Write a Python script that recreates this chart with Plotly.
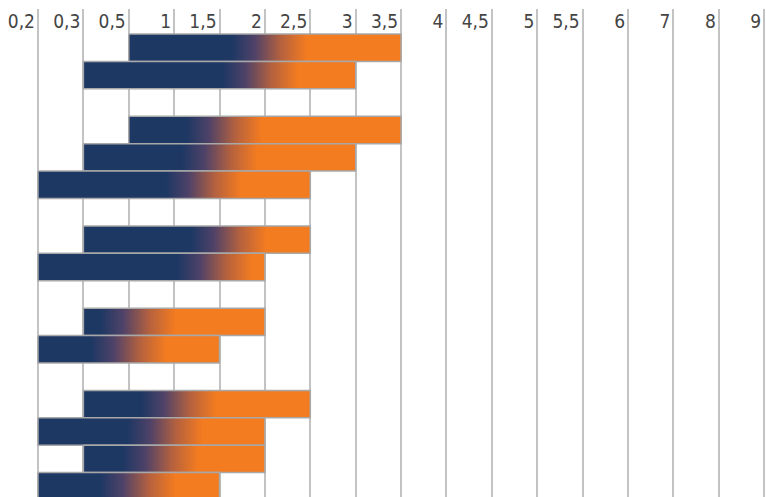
import plotly.graph_objects as go

# Scale steps along the top axis
tick_labels = ["0,2", "0,3", "0,5", "1", "1,5", "2", "2,5", "3", "3,5",
               "4", "4,5", "5", "5,5", "6", "7", "8", "9"]

# Bars are grouped; an empty row separates consecutive groups
group_sizes = [2, 3, 2, 2, 4]

# Range of each bar, given as scale steps
range_from = ["0,5", "0,3", "0,5", "0,3", "0,2", "0,3", "0,2",
              "0,3", "0,2", "0,3", "0,2", "0,3", "0,2"]
range_to = ["3,5", "3", "3,5", "3", "2,5", "2,5", "2",
            "2", "1,5", "2,5", "2", "2", "1,5"]

# Position (in scale steps) where each bar blends from blue into orange
blend_mid = [5.1, 4.9, 4.1, 4.0, 3.65, 4.2, 3.9,
             2.2, 2.0, 3.1, 2.8, 2.7, 2.2]

BLUE = "#1e3864"
ORANGE = "#f37b20"
blend_scale = [[0.0, BLUE], [0.3, "#4f4268"], [0.65, "#b4613f"], [1.0, ORANGE]]
BLEND_HALF = 0.82
OUTLINE = "#a8a8a8"
GRID = "#c3c3c3"

step_index = {lab: i for i, lab in enumerate(tick_labels)}

# Row index of every bar (groups separated by one empty row)
rows = []
r = 0
for size in group_sizes:
    for _ in range(size):
        rows.append(r)
        r += 1
    r += 1

fig = go.Figure()
for row, a, b, mid in zip(rows, range_from, range_to, blend_mid):
    x0, x1 = step_index[a], step_index[b]
    fig.add_trace(go.Scatter(
        x=[x0, x1, x1, x0, x0],
        y=[row - 0.5, row - 0.5, row + 0.5, row + 0.5, row - 0.5],
        mode="lines",
        fill="toself",
        line=dict(color=OUTLINE, width=1.5),
        fillgradient=dict(type="horizontal", colorscale=blend_scale,
                          start=mid - BLEND_HALF, stop=mid + BLEND_HALF),
        hoverinfo="skip",
        showlegend=False,
    ))

fig.update_layout(
    width=766, height=497,
    margin=dict(l=0, r=0, t=9, b=0),
    paper_bgcolor="white",
    plot_bgcolor="white",
    font=dict(family="DejaVu Sans Condensed, Liberation Sans Narrow, Arial Narrow, sans-serif",
              size=19, color="#111111"),
    xaxis=dict(
        side="top",
        range=[-0.837, 16.04],
        tickmode="array",
        tickvals=list(range(len(tick_labels))),
        ticktext=tick_labels,
        ticklabelposition="inside left",
        ticklabelshift=-3,
        ticks="",
        showgrid=True,
        gridcolor=GRID,
        gridwidth=1.5,
        zeroline=False,
        showline=False,
        fixedrange=True,
    ),
    yaxis=dict(
        range=[16.39, -1.414],
        showticklabels=False,
        ticks="",
        showgrid=False,
        zeroline=False,
        showline=False,
        fixedrange=True,
    ),
)

fig.write_html("out.html")
